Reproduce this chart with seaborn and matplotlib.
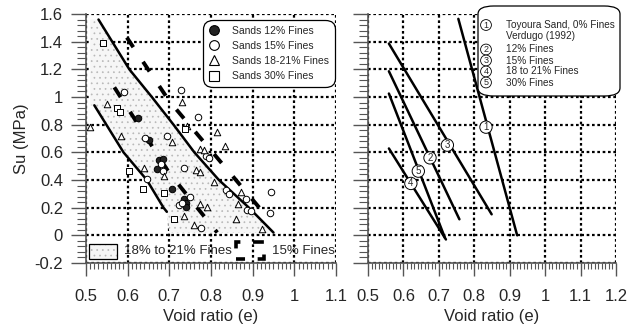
import matplotlib
matplotlib.use("Agg")
import matplotlib.pyplot as plt
from matplotlib.lines import Line2D
from matplotlib.patches import Rectangle, FancyBboxPatch
from matplotlib.ticker import MultipleLocator
import numpy as np
import pandas as pd
import seaborn as sns

# ---- data ----
# left panel: measured points
e_12 = [0.624, 0.652, 0.674, 0.684, 0.670, 0.706, 0.734, 0.741, 0.741]
su_12 = [0.85, 0.69, 0.545, 0.55, 0.477, 0.332, 0.26, 0.236, 0.207]

e_15 = [0.592, 0.642, 0.728, 0.769, 0.694, 0.787, 0.685, 0.681, 0.735, 0.646,
        0.749, 0.723, 0.731, 0.777, 0.835, 0.843, 0.883, 0.887, 0.895, 0.943,
        0.942, 0.795]
su_15 = [1.035, 0.705, 1.047, 0.854, 0.717, 0.573, 0.464, 0.513, 0.489, 0.404,
         0.277, 0.217, 0.236, 0.055, 0.327, 0.301, 0.26, 0.18, 0.175, 0.315,
         0.164, 0.56]

e_18 = [0.551, 0.510, 0.584, 0.731, 0.707, 0.815, 0.833, 0.773, 0.783, 0.640,
        0.686, 0.765, 0.773, 0.773, 0.791, 0.734, 0.759, 0.807, 0.871, 0.859,
        0.865, 0.922, 0.742]
su_18 = [0.946, 0.785, 0.717, 0.962, 0.674, 0.749, 0.645, 0.621, 0.616, 0.489,
         0.428, 0.469, 0.457, 0.229, 0.204, 0.139, 0.074, 0.385, 0.315, 0.12,
         0.229, 0.043, 0.79]

e_30 = [0.540, 0.574, 0.582, 0.602, 0.636, 0.686, 0.710, 0.737]
su_30 = [1.391, 0.922, 0.890, 0.464, 0.337, 0.308, 0.12, 0.77]

# left panel: bounds of the 18-21 % band (solid) and 15 % band (thick dashed)
upper_e = [0.53, 0.604, 0.658, 0.71, 0.76, 0.819, 0.891, 0.95]
upper_su = [1.56, 1.2, 1.0, 0.8, 0.6, 0.4, 0.2, 0.02]
lower_e = [0.52, 0.59, 0.646, 0.686, 0.694]
lower_su = [0.94, 0.6, 0.4, 0.2, 0.17]
band_edge_e = [0.51, 0.70]
band_edge_su = [1.56, 0.02]

dash_hi_e = [0.598, 0.70, 0.93]
dash_hi_su = [1.43, 0.97, 0.15]
dash_lo_e = [0.568, 0.70, 0.815]
dash_lo_su = [1.07, 0.45, 0.02]

# right panel: trend lines, label = curve number
trend_ids = ['1', '2', '3', '4', '5']
trend_e0 = [0.755, 0.559, 0.559, 0.559, 0.559]
trend_su0 = [1.565, 1.186, 1.386, 0.628, 1.025]
trend_e1 = [0.921, 0.758, 0.849, 0.720, 0.717]
trend_su1 = [0.0, 0.116, 0.152, -0.03, -0.017]
tag_e = [0.833, 0.675, 0.724, 0.621, 0.642]
tag_su = [0.782, 0.56, 0.652, 0.375, 0.464]
right_legend = ['Toyoura Sand, 0% Fines', '12% Fines', '15% Fines',
                '18 to 21% Fines', '30% Fines']
right_legend_note = 'Verdugo (1992)'

left_xticks = [0.5, 0.6, 0.7, 0.8, 0.9, 1.0, 1.1]
left_xlabels = ['0.5', '0.6', '0.7', '0.8', '0.9', '1', '1.1']
right_xticks = [0.5, 0.6, 0.7, 0.8, 0.9, 1.0, 1.1, 1.2]
right_xlabels = ['0.5', '0.6', '0.7', '0.8', '0.9', '1', '1.1', '1.2']
yticks = [-0.2, 0, 0.2, 0.4, 0.6, 0.8, 1.0, 1.2, 1.4, 1.6]
ylabels = ['-0.2', '0', '0.2', '0.4', '0.6', '0.8', '1', '1.2', '1.4', '1.6']

# ---- style ----
sns.set_theme(style='white')
plt.rcParams['font.family'] = ['Liberation Sans', 'DejaVu Sans']
plt.rcParams['hatch.linewidth'] = 0.5

fig = plt.figure(figsize=(6.3, 3.26), dpi=100)
ax1 = fig.add_axes([86 / 630, 63 / 326, 250 / 630, 249 / 326])
ax2 = fig.add_axes([368 / 630, 63 / 326, 248 / 630, 249 / 326])

grid_kw = dict(color='black', linestyle=(0, (1.2, 1.2)), linewidth=1.6)
band_face = '#f6f6f6'
band_dots = '#b8b8b8'


def style_axes(ax, xt, xl, show_ylabels):
    ax.set_ylim(-0.2, 1.6)
    ax.set_xlim(xt[0], xt[-1])
    ax.set_xticks(xt)
    ax.set_xticklabels(xl, fontsize=12)
    ax.set_yticks(yticks)
    if show_ylabels:
        ax.set_yticklabels(ylabels, fontsize=12)
    else:
        ax.set_yticklabels([])
    ax.xaxis.set_minor_locator(MultipleLocator(0.01))
    ax.yaxis.set_minor_locator(MultipleLocator(0.04))
    ax.tick_params(axis='x', which='major', direction='out', length=9.5,
                   width=1.0, color='#555555', pad=9, bottom=True)
    ax.tick_params(axis='x', which='minor', direction='out', length=4,
                   width=0.8, color='#555555', bottom=True)
    ax.tick_params(axis='y', which='major', direction='out', length=10.5,
                   width=1.0, color='#555555', pad=6, left=True)
    ax.tick_params(axis='y', which='minor', direction='out', length=6.5,
                   width=0.8, color='#555555', left=True)
    for s in ('top', 'right'):
        ax.spines[s].set_visible(False)
    for s in ('left', 'bottom'):
        ax.spines[s].set_color('#555555')
        ax.spines[s].set_linewidth(1.2)
    ax.grid(True, which='major', **grid_kw)
    ax.set_axisbelow(True)
    ax.set_facecolor('white')
    ax.set_xlabel('Void ratio (e)', fontsize=12, labelpad=4)


style_axes(ax1, left_xticks, left_xlabels, True)
style_axes(ax2, right_xticks, right_xlabels, False)
ax1.set_ylabel('Su (MPa)', fontsize=12, labelpad=4)

# ---- left panel ----
band_x = [band_edge_e[0]] + upper_e + [band_edge_e[1]] + lower_e[::-1] + [band_edge_e[0]]
band_y = [upper_su[0]] + upper_su + [band_edge_su[1]] + lower_su[::-1] + [lower_su[0]]
ax1.fill(band_x, band_y, facecolor=band_face, edgecolor=band_dots,
         hatch='...', linewidth=0, zorder=1)

sns.lineplot(x=upper_e, y=upper_su, sort=False, estimator=None, color='black',
             linewidth=1.8, ax=ax1, zorder=3)
sns.lineplot(x=lower_e, y=lower_su, sort=False, estimator=None, color='black',
             linewidth=1.8, ax=ax1, zorder=3)
for ex, sy in ((dash_hi_e, dash_hi_su), (dash_lo_e, dash_lo_su)):
    ax1.plot(ex, sy, color='black', linewidth=2.8, linestyle=(0, (3, 4.5)),
             solid_capstyle='butt', zorder=3)

pts = pd.concat([
    pd.DataFrame({'e': e_12, 'su': su_12, 'grp': 'Sands 12% Fines'}),
    pd.DataFrame({'e': e_15, 'su': su_15, 'grp': 'Sands 15% Fines'}),
    pd.DataFrame({'e': e_18, 'su': su_18, 'grp': 'Sands 18-21% Fines'}),
    pd.DataFrame({'e': e_30, 'su': su_30, 'grp': 'Sands 30% Fines'}),
])
marker_map = {'Sands 12% Fines': 'o', 'Sands 15% Fines': 'o',
              'Sands 18-21% Fines': '^', 'Sands 30% Fines': 's'}
face_map = {'Sands 12% Fines': '#222222', 'Sands 15% Fines': 'white',
            'Sands 18-21% Fines': 'white', 'Sands 30% Fines': 'white'}
for grp, sub in pts.groupby('grp'):
    sns.scatterplot(data=sub, x='e', y='su', marker=marker_map[grp], s=22,
                    color=face_map[grp], edgecolor='black', linewidth=0.7,
                    ax=ax1, zorder=4, legend=False)

handles = [Line2D([], [], linestyle='none', marker=marker_map[g], markersize=7,
                  markerfacecolor=face_map[g], markeredgecolor='black',
                  markeredgewidth=0.8, label=g) for g in marker_map]
leg = ax1.legend(handles=handles, loc='upper right', bbox_to_anchor=(0.99, 0.972),
                 fontsize=7.5, frameon=True, fancybox=True, framealpha=1,
                 edgecolor='black', handletextpad=1.2, borderpad=0.45,
                 labelspacing=0.5, handlelength=1.0, borderaxespad=0)
leg.get_frame().set_linewidth(0.9)
leg.get_frame().set_boxstyle('round,pad=0.1,rounding_size=0.9')
leg.set_zorder(5)

# band key at the bottom
ax1.add_patch(Rectangle((0.508, -0.168), 0.066, 0.103, facecolor=band_face,
                        edgecolor=band_dots, hatch='...', linewidth=0, zorder=4))
ax1.add_patch(Rectangle((0.508, -0.168), 0.066, 0.103, fill=False,
                        edgecolor='black', linewidth=0.9, zorder=5))
ax1.text(0.592, -0.113, '18% to 21% Fines', fontsize=9.5, va='center', ha='left',
         zorder=5)
ax1.add_patch(Rectangle((0.859, -0.173), 0.068, 0.123, fill=False,
                        edgecolor='black', linewidth=2.6,
                        linestyle=(0.5, (3, 3.5)), zorder=5))
ax1.text(0.947, -0.113, '15% Fines', fontsize=9.5, va='center', ha='left',
         zorder=5, clip_on=False)

# ---- right panel ----
for i in range(len(trend_ids)):
    sns.lineplot(x=[trend_e0[i], trend_e1[i]], y=[trend_su0[i], trend_su1[i]],
                 sort=False, estimator=None, color='black', linewidth=1.8,
                 ax=ax2, zorder=3)
    ax2.text(tag_e[i], tag_su[i], trend_ids[i], fontsize=7, ha='center',
             va='center', zorder=4,
             bbox=dict(boxstyle='circle,pad=0.12', facecolor='white',
                       edgecolor='black', linewidth=0.7))

# right key box (drawn in figure pixels)
fig.patches.append(FancyBboxPatch((478 / 630, (326 - 96) / 326), 142 / 630, 90 / 326,
                                  boxstyle='round,pad=0,rounding_size=0.025',
                                  transform=fig.transFigure, facecolor='white',
                                  edgecolor='black', linewidth=0.9, zorder=5))
key_y = [25, 49.5, 60.5, 71.5, 82.5]
for i in range(len(trend_ids)):
    fig.text(486 / 630, 1 - key_y[i] / 326, trend_ids[i], fontsize=6.5,
             ha='center', va='center', zorder=6,
             bbox=dict(boxstyle='circle,pad=0.1', facecolor='white',
                       edgecolor='black', linewidth=0.6))
    fig.text(506 / 630, 1 - key_y[i] / 326, right_legend[i], fontsize=7.2,
             ha='left', va='center', zorder=6)
fig.text(506 / 630, 1 - 36 / 326, right_legend_note, fontsize=7.2,
         ha='left', va='center', zorder=6)

fig.savefig('out.png', dpi=100)
